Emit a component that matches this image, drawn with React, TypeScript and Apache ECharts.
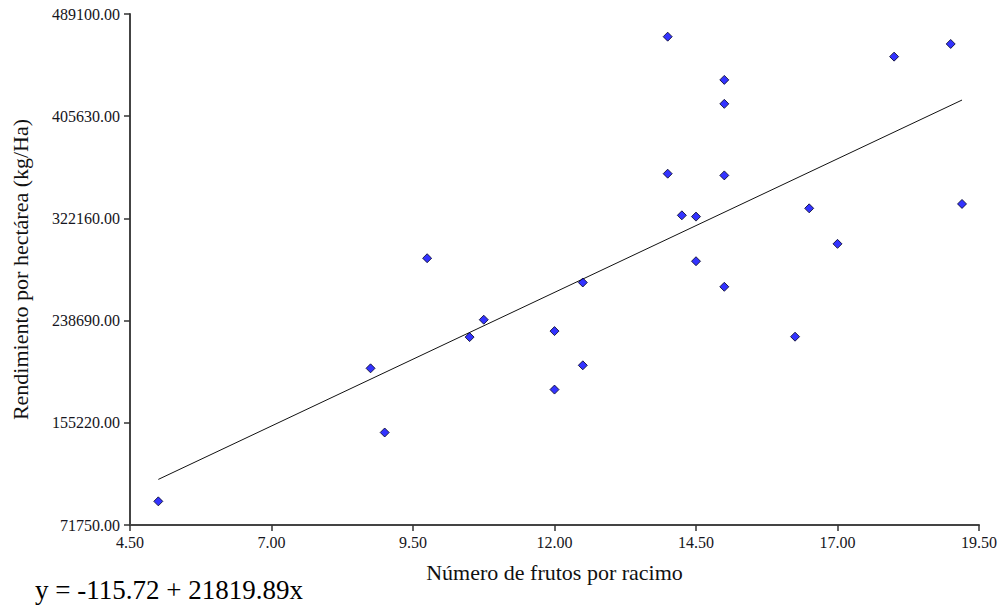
import React, { useEffect, useRef } from "react";
import * as echarts from "echarts";

const FONT = "'Liberation Serif', 'Times New Roman', serif";

// Fruits per bunch (x) and yield kg/Ha (y)
const frutos: number[] = [
  5.0, 8.75, 9.0, 9.75, 10.5, 10.75, 12.0, 12.0, 12.5, 12.5,
  14.0, 14.0, 14.25, 14.5, 14.5, 15.0, 15.0, 15.0, 15.0, 16.25,
  16.5, 17.0, 18.0, 19.0, 19.2,
];
const rendimiento: number[] = [
  91070, 199720, 147310, 289630, 225230, 239420, 230120, 182360, 269820, 202170,
  470580, 358670, 324680, 323620, 287180, 435290, 415720, 357280, 266310, 225560,
  330380, 301360, 454280, 464630, 333970,
];

const X_MIN = 4.5;
const X_MAX = 19.5;
const X_STEP = 2.5;
const Y_MIN = 71750;
const Y_MAX = 489100;
const Y_STEP = 83470;

const INTERCEPT = -115.72;
const SLOPE = 21819.89;
const EQUATION = "y = -115.72 + 21819.89x";
const X_TITLE = "Número de frutos por racimo";
const Y_TITLE = "Rendimiento por hectárea (kg/Ha)";

export default function App() {
  const ref = useRef<HTMLDivElement>(null);
  useEffect(() => {
    if (!ref.current) return;
    const chart = echarts.init(ref.current, undefined, { renderer: "svg" });
    const pts = frutos.map((x, i) => [x - X_MIN, rendimiento[i] - Y_MIN]);
    const xLo = Math.min(...frutos);
    const xHi = Math.max(...frutos);
    const fit = [xLo, xHi].map((x) => [x - X_MIN, INTERCEPT + SLOPE * x - Y_MIN]);
    const axisLine = { show: true, lineStyle: { color: "#444", width: 2 } };
    chart.setOption({
      animation: false,
      backgroundColor: "#fff",
      grid: { left: 130, right: 24, top: 14, bottom: 82 },
      xAxis: {
        type: "value",
        min: 0,
        max: X_MAX - X_MIN,
        interval: X_STEP,
        axisLine,
        axisTick: { show: true, length: 6, inside: false, lineStyle: { color: "#333", width: 1.5 } },
        splitLine: { show: false },
        axisLabel: {
          margin: 9,
          color: "#151520",
          fontFamily: FONT,
          fontSize: 16,
          formatter: (v: number) => (v + X_MIN).toFixed(2),
        },
        name: X_TITLE,
        nameLocation: "middle",
        nameGap: 36,
        nameTextStyle: { color: "#111", fontFamily: FONT, fontSize: 22 },
      },
      yAxis: {
        type: "value",
        min: 0,
        max: Y_MAX - Y_MIN,
        interval: Y_STEP,
        axisLine,
        axisTick: { show: true, length: 6, inside: false, lineStyle: { color: "#333", width: 1.5 } },
        splitLine: { show: false },
        axisLabel: {
          margin: 10,
          color: "#151520",
          fontFamily: FONT,
          fontSize: 16,
          formatter: (v: number) => (v + Y_MIN).toFixed(2),
        },
        name: Y_TITLE,
        nameLocation: "middle",
        nameGap: 99,
        nameTextStyle: { color: "#111", fontFamily: FONT, fontSize: 22 },
      },
      graphic: [
        {
          type: "text",
          left: 35,
          top: 576,
          style: { text: EQUATION, fill: "#000", font: `27px ${FONT}` },
        },
      ],
      series: [
        {
          type: "line",
          data: fit,
          showSymbol: false,
          symbol: "none",
          lineStyle: { color: "#111", width: 1 },
          z: 1,
        },
        {
          type: "scatter",
          data: pts,
          symbol: "diamond",
          symbolSize: 9,
          itemStyle: { color: "#0000ff", borderColor: "#000020", borderWidth: 1 },
          z: 2,
        },
      ],
    });
    return () => chart.dispose();
  }, []);
  return (
    <div
      ref={ref}
      style={{ position: "absolute", left: 0, top: 0, width: 1003, height: 607 }}
    />
  );
}
